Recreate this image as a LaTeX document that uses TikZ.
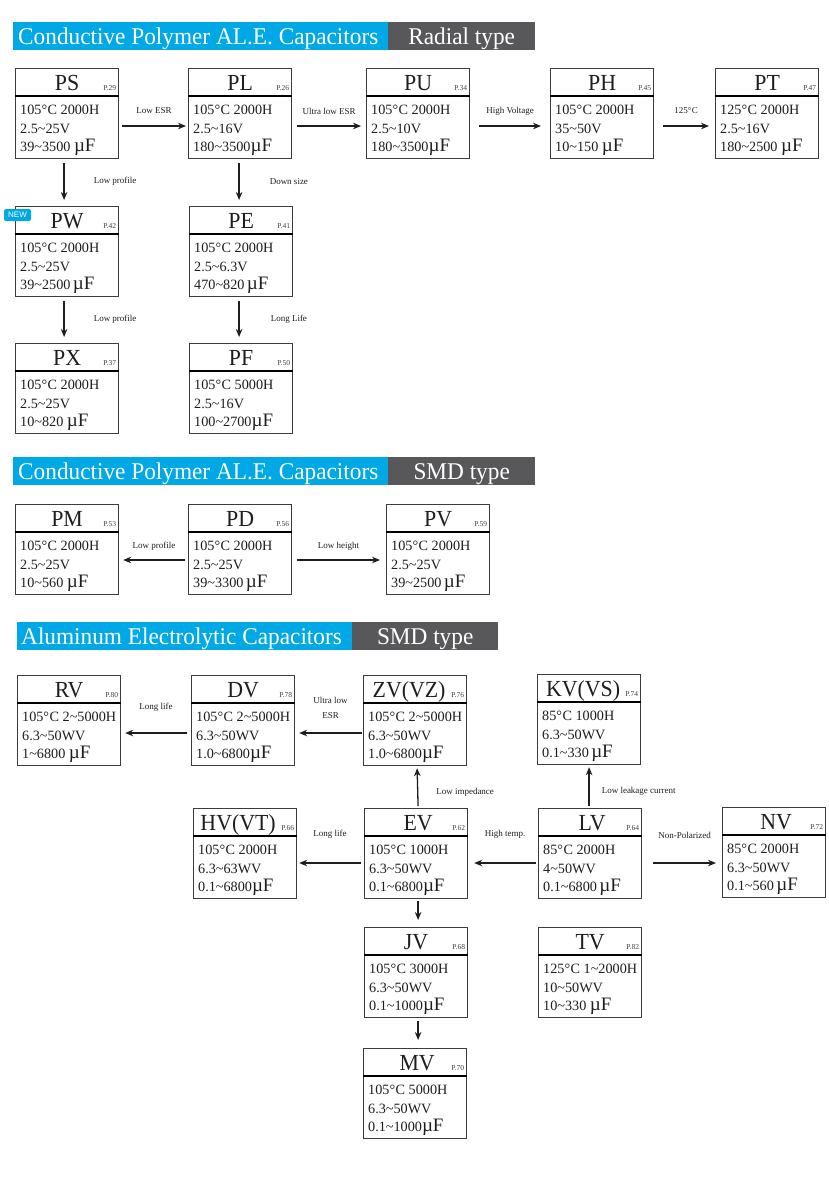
\documentclass[tikz,border=0pt]{standalone}
\usepackage{fontspec}
\setmainfont{Liberation Serif}
\newfontfamily\ttlfont[FakeStretch=0.95]{Liberation Serif}
\newfontfamily\hdfont[FakeStretch=0.97]{Liberation Serif}
\newfontfamily\sansfnt{Liberation Sans}
\usetikzlibrary{calc,arrows.meta}
\definecolor{hblue}{HTML}{00A9E6}
\definecolor{hgray}{HTML}{58585A}
\definecolor{bordc}{HTML}{3C3C3C}
\definecolor{txtc}{HTML}{1E1E1E}
\newcommand\tld{\char"7E\relax}
\newcommand\dC{°\kern0.5pt C}
\newcommand\uF{{\fontsize{19}{19}\selectfont µF}}
\tikzset{
  capbox/.style={draw=bordc, line width=1.2pt, minimum width=103pt, minimum height=90pt, inner sep=0pt, anchor=north west, fill=white},
  sepl/.style={line width=2.4pt, draw=black},
  ttl/.style={font=\ttlfont\fontsize{23}{23}\selectfont, anchor=base, inner sep=0pt, text=txtc},
  pg/.style={font=\fontsize{7.5}{7.5}\selectfont, anchor=base east, inner sep=0pt, text=txtc!85},
  body/.style={font=\fontsize{14.2}{14.2}\selectfont, anchor=base west, inner sep=0pt, text=txtc},
  lbl/.style={font=\fontsize{9}{15}\selectfont, inner sep=0pt, text=txtc, align=center},
  arr/.style={line width=1.3pt, draw=txtc, -{Stealth[length=8pt,width=6.5pt]}},
  hbar/.style={minimum height=28pt, anchor=north west, inner sep=0pt},
  hd/.style={font=\hdfont\fontsize{24}{24}\selectfont, text=white, inner sep=0pt},
}
\newcommand\capb[9]{%
  \node[capbox] (#1) at (#2,#3) {};
  \draw[sepl] ($(#1.north west)+(0,28)$) -- ($(#1.north east)+(0,28)$);
  \node[ttl] (#1t) at ($(#1.north)+(#9,22)$) {#4};
  \node[pg] (#1p) at ($(#1.north east)+(-3,22)$) {#5};
  \node[body] (#1a) at ($(#1.north west)+(5,46)$) {#6};
  \node[body] (#1b) at ($(#1.north west)+(5,65)$) {#7};
  \node[body] (#1c) at ($(#1.north west)+(5,83)$) {#8};
}
\begin{document}
\begin{tikzpicture}[x=1pt,y=-1pt]
\useasboundingbox[fill=white] (0,0) rectangle (829,1200);

% ---------- Header 1
\node[hbar, fill=hblue, minimum width=375pt] (h1b) at (13,22) {};
\node[hbar, fill=hgray, minimum width=147pt] (h1g) at (388,22) {};
\node[hd, anchor=base west] (h1t) at ($(h1b.north west)+(5,22.5)$) {Conductive Polymer AL.E. Capacitors};
\node[hd, anchor=base] (h1r) at ($(h1g.north)+(0,22.5)$) {Radial type};

\capb{ps}{15}{68}{PS}{P.29}{105\dC\ 2000H}{2.5\tld25V}{39\tld3500 \uF}{0}
\capb{pl}{188}{68}{PL}{P.26}{105\dC\ 2000H}{2.5\tld16V}{180\tld3500\uF}{0}
\capb{pu}{366}{68}{PU}{P.34}{105\dC\ 2000H}{2.5\tld10V}{180\tld3500\uF}{0}
\capb{ph}{550}{68}{PH}{P.45}{105\dC\ 2000H}{35\tld50V}{10\tld150 \uF}{0}
\capb{pt}{715}{68}{PT}{P.47}{125\dC\ 2000H}{2.5\tld16V}{180\tld2500 \uF}{0}
\capb{pw}{15}{206}{PW}{P.42}{105\dC\ 2000H}{2.5\tld25V}{39\tld2500\,\uF}{0}
\capb{pe}{189}{206}{PE}{P.41}{105\dC\ 2000H}{2.5\tld6.3V}{470\tld820\,\uF}{0}
\capb{px}{15}{343}{PX}{P.37}{105\dC\ 2000H}{2.5\tld25V}{10\tld820 \uF}{0}
\capb{pf}{189}{343}{PF}{P.50}{105\dC\ 5000H}{2.5\tld16V}{100\tld2700\uF}{0}

\node[fill=hblue, rounded corners=2pt, text=white, font=\sansfnt\fontsize{8}{8}\selectfont, minimum width=27pt, minimum height=12pt, inner sep=0pt] (new) at (17.5,215) {NEW};

\draw[arr] ($(ps.north east)+(3,58)$) -- node[lbl, midway, yshift=15pt] {Low ESR} ($(pl.north west)+(-2,58)$);
\draw[arr] ($(pl.north east)+(5,58)$) -- node[lbl, midway, yshift=15pt] {Ultra low ESR} ($(pu.north west)+(-5,58)$);
\draw[arr] ($(pu.north east)+(9,58)$) -- node[lbl, midway, yshift=15pt] {High Voltage} ($(ph.north west)+(-9,58)$);
\draw[arr] ($(ph.north east)+(9,58)$) -- node[lbl, midway, yshift=15pt] {125\dC} ($(pt.north west)+(-6,58)$);

\draw[arr] ($(ps.south)+(-3,4)$) -- node[lbl, midway, anchor=west, xshift=29pt] {Low profile} ($(pw.north)+(-3,-6)$);
\draw[arr] ($(pl.south)+(-1,4)$) -- node[lbl, midway, anchor=west, xshift=30pt] {Down size} ($(pe.north)+(-2,-6)$);
\draw[arr] ($(pw.south)+(-3,4)$) -- node[lbl, midway, anchor=west, xshift=29pt] {Low profile} ($(px.north)+(-3,-6)$);
\draw[arr] ($(pe.south)+(-2,4)$) -- node[lbl, midway, anchor=west, xshift=31pt] {Long Life} ($(pf.north)+(-2,-6)$);

% ---------- Header 2
\node[hbar, fill=hblue, minimum width=375pt] (h2b) at (13,457) {};
\node[hbar, fill=hgray, minimum width=147pt] (h2g) at (388,457) {};
\node[hd, anchor=base west] (h2t) at ($(h2b.north west)+(5,22.5)$) {Conductive Polymer AL.E. Capacitors};
\node[hd, anchor=base] (h2r) at ($(h2g.north)+(0,22.5)$) {SMD type};

\capb{pm}{15}{504}{PM}{P.53}{105\dC\ 2000H}{2.5\tld25V}{10\tld560 \uF}{0}
\capb{pd}{188}{504}{PD}{P.56}{105\dC\ 2000H}{2.5\tld25V}{39\tld3300\,\uF}{0}
\capb{pv}{386}{504}{PV}{P.59}{105\dC\ 2000H}{2.5\tld25V}{39\tld2500\,\uF}{0}

\draw[arr] ($(pd.north west)+(-3,56)$) -- node[lbl, midway, yshift=14pt] {Low profile} ($(pm.north east)+(4,56)$);
\draw[arr] ($(pd.north east)+(5,56)$) -- node[lbl, midway, yshift=14pt] {Low height} ($(pv.north west)+(-6,56)$);

% ---------- Header 3
\node[hbar, fill=hblue, minimum width=335pt] (h3b) at (17,622) {};
\node[hbar, fill=hgray, minimum width=146pt] (h3g) at (352,622) {};
\node[hd, anchor=base west] (h3t) at ($(h3b.north west)+(4,22.5)$) {Aluminum Electrolytic Capacitors};
\node[hd, anchor=base] (h3r) at ($(h3g.north)+(0,22.5)$) {SMD type};

\capb{rv}{17}{675}{RV}{P.80}{105\dC\ 2\tld5000H}{6.3\tld50WV}{1\tld6800 \uF}{0}
\capb{dv}{191}{675}{DV}{P.78}{105\dC\ 2\tld5000H}{6.3\tld50WV}{1.0\tld6800\uF}{0}
\capb{zv}{363}{675}{ZV(VZ)}{P.76}{105\dC\ 2\tld5000H}{6.3\tld50WV}{1.0\tld6800\uF}{-6}
\capb{kv}{537}{674}{KV(VS)}{P.74}{85\dC\ 1000H}{6.3\tld50WV}{0.1\tld330\,\uF}{-6}
\capb{hv}{193}{808}{HV(VT)}{P.66}{105\dC\ 2000H}{6.3\tld63WV}{0.1\tld6800\uF}{-7}
\capb{ev}{364}{808}{EV}{P.62}{105\dC\ 1000H}{6.3\tld50WV}{0.1\tld6800\uF}{2}
\capb{lv}{538}{808}{LV}{P.64}{85\dC\ 2000H}{4\tld50WV}{0.1\tld6800\,\uF}{2}
\capb{nv}{722}{807}{NV}{P.72}{85\dC\ 2000H}{6.3\tld50WV}{0.1\tld560\,\uF}{2}
\capb{jv}{364}{927}{JV}{P.68}{105\dC\ 3000H}{6.3\tld50WV}{0.1\tld1000\uF}{0}
\capb{tv}{538}{927}{TV}{P.82}{125\dC\ 1\tld2000H}{10\tld50WV}{10\tld330 \uF}{0}
\capb{mv}{363}{1048}{MV}{P.70}{105\dC\ 5000H}{6.3\tld50WV}{0.1\tld1000\uF}{2}

\draw[arr] ($(dv.north west)+(-4,58)$) -- node[lbl, midway, yshift=26pt] {Long life} ($(rv.north east)+(4,58)$);
\draw[arr] ($(zv.north west)+(-1,58)$) -- node[lbl, midway, yshift=25pt] {Ultra low\\ESR} ($(dv.north east)+(4,58)$);
\draw[arr] ($(ev.north)+(2,-2)$) -- node[lbl, midway, anchor=west, xshift=18pt, yshift=-5pt] {Low impedance} ($(zv.south)+(2,2)$);
\draw[arr] ($(lv.north)+(-1,-2)$) -- node[lbl, midway, anchor=west, xshift=12pt, yshift=-5pt] {Low leakage current} ($(kv.south)+(0,2)$);
\draw[arr] ($(ev.north west)+(-3,55)$) -- node[lbl, midway, yshift=29pt] {Long life} ($(hv.north east)+(2,55)$);
\draw[arr] ($(lv.north west)+(-2,55)$) -- node[lbl, midway, yshift=29pt] {High temp.} ($(ev.north east)+(6,55)$);
\draw[arr] ($(lv.north east)+(11,55)$) -- node[lbl, midway, yshift=28pt] {Non-Polarized} ($(nv.north west)+(-6,56)$);
\draw[arr] ($(ev.south)+(2,2)$) -- ($(jv.north)+(2,-7)$);
\draw[arr] ($(jv.south)+(2,3)$) -- ($(mv.north)+(3,-8)$);
\end{tikzpicture}
\end{document}
